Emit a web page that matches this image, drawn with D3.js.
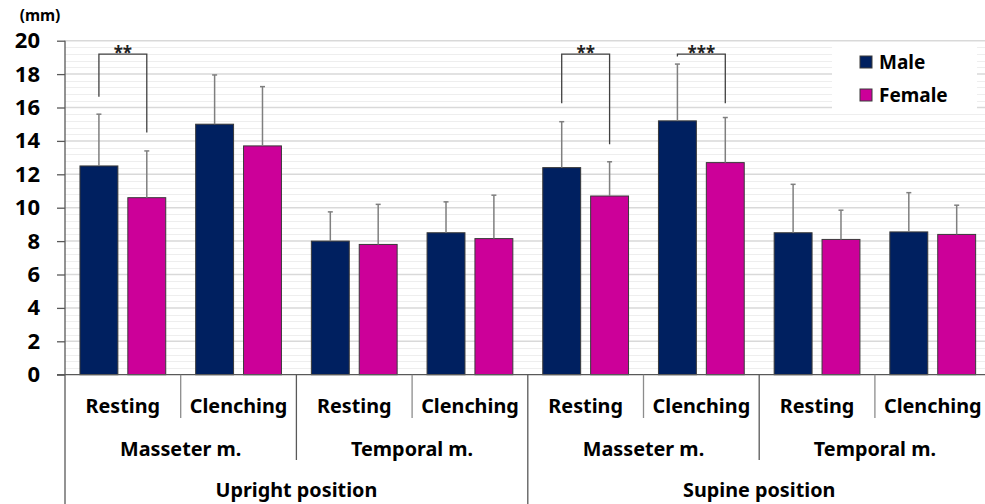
<!DOCTYPE html>
<html><head><meta charset="utf-8">
<script src="https://cdn.jsdelivr.net/npm/d3@7"></script>
<style>body{margin:0;background:#fff;} svg{display:block;font-family:"Noto Sans",sans-serif;}</style>
</head><body><svg id="c" width="985" height="504"></svg>
<script>
// ---- data ----
const positions = ["Upright position", "Supine position"];
const muscles = ["Masseter m.", "Temporal m."];
const tasks = ["Resting", "Clenching"];
const series = ["Male", "Female"];
const maleMean = [12.5, 15.0, 8.0, 8.5, 12.4, 15.2, 8.5, 8.55];
const maleSD = [3.1, 2.95, 1.75, 1.85, 2.75, 3.4, 2.9, 2.35];
const femaleMean = [10.6, 13.7, 7.8, 8.15, 10.7, 12.7, 8.1, 8.4];
const femaleSD = [2.8, 3.55, 2.4, 2.6, 2.05, 2.7, 1.75, 1.75];
const yTicks = [0, 2, 4, 6, 8, 10, 12, 14, 16, 18, 20];
const brackets = [
  {cat: 0, label: "**", top: 19.2, left: 16.65, right: 14.5},
  {cat: 4, label: "**", top: 19.2, left: 16.25, right: 13.8},
  {cat: 5, label: "***", top: 19.2, left: 19.05, right: 16.25}
];
const colors = {Male: "#002060", Female: "#CC0099"};

(function () {
// build flat categories
const cats = [];
positions.forEach(p => muscles.forEach(m => tasks.forEach(t => cats.push({p, m, t}))));
const rows = cats.map((c, i) => ({i, ...c,
  vals: [{s: "Male", v: maleMean[i], e: maleSD[i]}, {s: "Female", v: femaleMean[i], e: femaleSD[i]}]}));

const svg = d3.select("#c");
const L = 65, R = 990.6, T = 40.7, B = 374.7;
const x = d3.scaleBand().domain(d3.range(cats.length)).range([L, R]).padding(0);
const xs = d3.scaleBand().domain(series).range([0, x.bandwidth()]).paddingInner(0.2083).paddingOuter(0.3125);
const y = d3.scaleLinear().domain([0, 20]).range([B, T]);

// gridlines
const minor = d3.range(0, 20.01, 0.4).filter(v => Math.abs(v / 2 - Math.round(v / 2)) > 0.01);
svg.append("g").selectAll("line").data(minor).join("line")
  .attr("x1", L).attr("x2", 985).attr("y1", d => Math.round(y(d)) + 0.5).attr("y2", d => Math.round(y(d)) + 0.5)
  .attr("stroke", "#eeeeee").attr("stroke-width", 1);
svg.append("g").selectAll("line").data(yTicks.filter(d => d > 0)).join("line")
  .attr("x1", L).attr("x2", 985).attr("y1", d => y(d)).attr("y2", d => y(d))
  .attr("stroke", "#d9d9d9").attr("stroke-width", 1.5);

// legend background
svg.append("rect").attr("x", 832).attr("y", 43).attr("width", 145).attr("height", 70).attr("fill", "#fff");

// bars
const g = svg.append("g").selectAll("g").data(rows).join("g").attr("transform", d => `translate(${x(d.i)},0)`);
g.selectAll("rect").data(d => d.vals).join("rect")
  .attr("x", d => xs(d.s)).attr("width", xs.bandwidth())
  .attr("y", d => y(d.v)).attr("height", d => y(0) - y(d.v))
  .attr("fill", d => colors[d.s]).attr("stroke", "#3a3a3a").attr("stroke-width", 1);
// error bars
g.selectAll("line.err").data(d => d.vals).join("line").attr("class", "err")
  .attr("x1", d => xs(d.s) + xs.bandwidth() / 2).attr("x2", d => xs(d.s) + xs.bandwidth() / 2)
  .attr("y1", d => y(d.v)).attr("y2", d => y(d.v + d.e))
  .attr("stroke", "#7f7f7f").attr("stroke-width", 1.5);
g.selectAll("line.cap").data(d => d.vals).join("line").attr("class", "cap")
  .attr("x1", d => xs(d.s) + xs.bandwidth() / 2 - 2.5).attr("x2", d => xs(d.s) + xs.bandwidth() / 2 + 2.5)
  .attr("y1", d => y(d.v + d.e)).attr("y2", d => y(d.v + d.e))
  .attr("stroke", "#7f7f7f").attr("stroke-width", 1.5);

// brackets
const bg = svg.append("g").selectAll("g").data(brackets).join("g");
bg.append("path").attr("fill", "none").attr("stroke", "#404040").attr("stroke-width", 1.3)
  .attr("d", d => {
    const xa = x(d.cat) + xs("Male") + xs.bandwidth() / 2, xb = x(d.cat) + xs("Female") + xs.bandwidth() / 2;
    return `M${xa},${y(d.left)}V${y(d.top)}H${xb}V${y(d.right)}`;
  });
bg.append("text").attr("x", d => x(d.cat) + x.bandwidth() / 2).attr("y", d => y(d.top) + 5)
  .attr("text-anchor", "middle").attr("font-size", 17).attr("font-weight", "bold").attr("fill", "#222").text(d => d.label);

// y axis
const ya = svg.append("g").attr("transform", `translate(${L},0)`)
  .call(d3.axisLeft(y).tickValues(yTicks).tickSize(8).tickPadding(17).tickFormat(d3.format("d")));
ya.select(".domain").remove();
ya.selectAll("line").attr("stroke", "#595959").attr("stroke-width", 1.3);
ya.selectAll("text").attr("font-size", 22).attr("font-weight", "bold").attr("fill", "#000").attr("font-family", "Noto Sans");
svg.append("line").attr("x1", L).attr("x2", L).attr("y1", T).attr("y2", 504).attr("stroke", "#595959").attr("stroke-width", 1.3);
svg.append("text").attr("x", 40).attr("y", 21).attr("text-anchor", "middle").attr("font-size", 15.5).attr("font-weight", "bold").text("(mm)");

// x axis line
svg.append("line").attr("x1", L - 8).attr("x2", 985).attr("y1", B).attr("y2", B).attr("stroke", "#595959").attr("stroke-width", 1.3);

// separators
d3.range(1, cats.length).forEach(k => {
  const lvl = k % 4 === 0 ? 504 : (k % 2 === 0 ? 460 : 418);
  svg.append("line").attr("x1", x(k)).attr("x2", x(k)).attr("y1", B).attr("y2", lvl)
    .attr("stroke", k % 2 === 0 ? "#595959" : "#8c8c8c").attr("stroke-width", 1.3);
});

// category labels
const lab = svg.append("g").attr("font-weight", "bold").attr("text-anchor", "middle").attr("fill", "#000");
rows.forEach(r => lab.append("text").attr("x", x(r.i) + x.bandwidth() / 2).attr("y", 406).attr("dy", "0.35em").attr("font-size", 19.8).text(r.t));
d3.range(0, cats.length, 2).forEach(k => lab.append("text").attr("x", x(k) + x.bandwidth()).attr("y", 449).attr("dy", "0.35em").attr("font-size", 19.8).text(cats[k].m));
d3.range(0, cats.length, 4).forEach(k => lab.append("text").attr("x", x(k) + 2 * x.bandwidth()).attr("y", 490).attr("dy", "0.35em").attr("font-size", 19.8).text(cats[k].p));

// legend
const lg = svg.append("g").selectAll("g").data(series).join("g").attr("transform", (d, i) => `translate(860,${56 + i * 33})`);
lg.append("rect").attr("width", 12).attr("height", 12).attr("fill", d => colors[d]).attr("stroke", "#3a3a3a").attr("stroke-width", 1);
lg.append("text").attr("x", 19).attr("y", 6).attr("dy", "0.35em").attr("font-size", 19).attr("font-weight", "bold").text(d => d);
})();
</script></body></html>
